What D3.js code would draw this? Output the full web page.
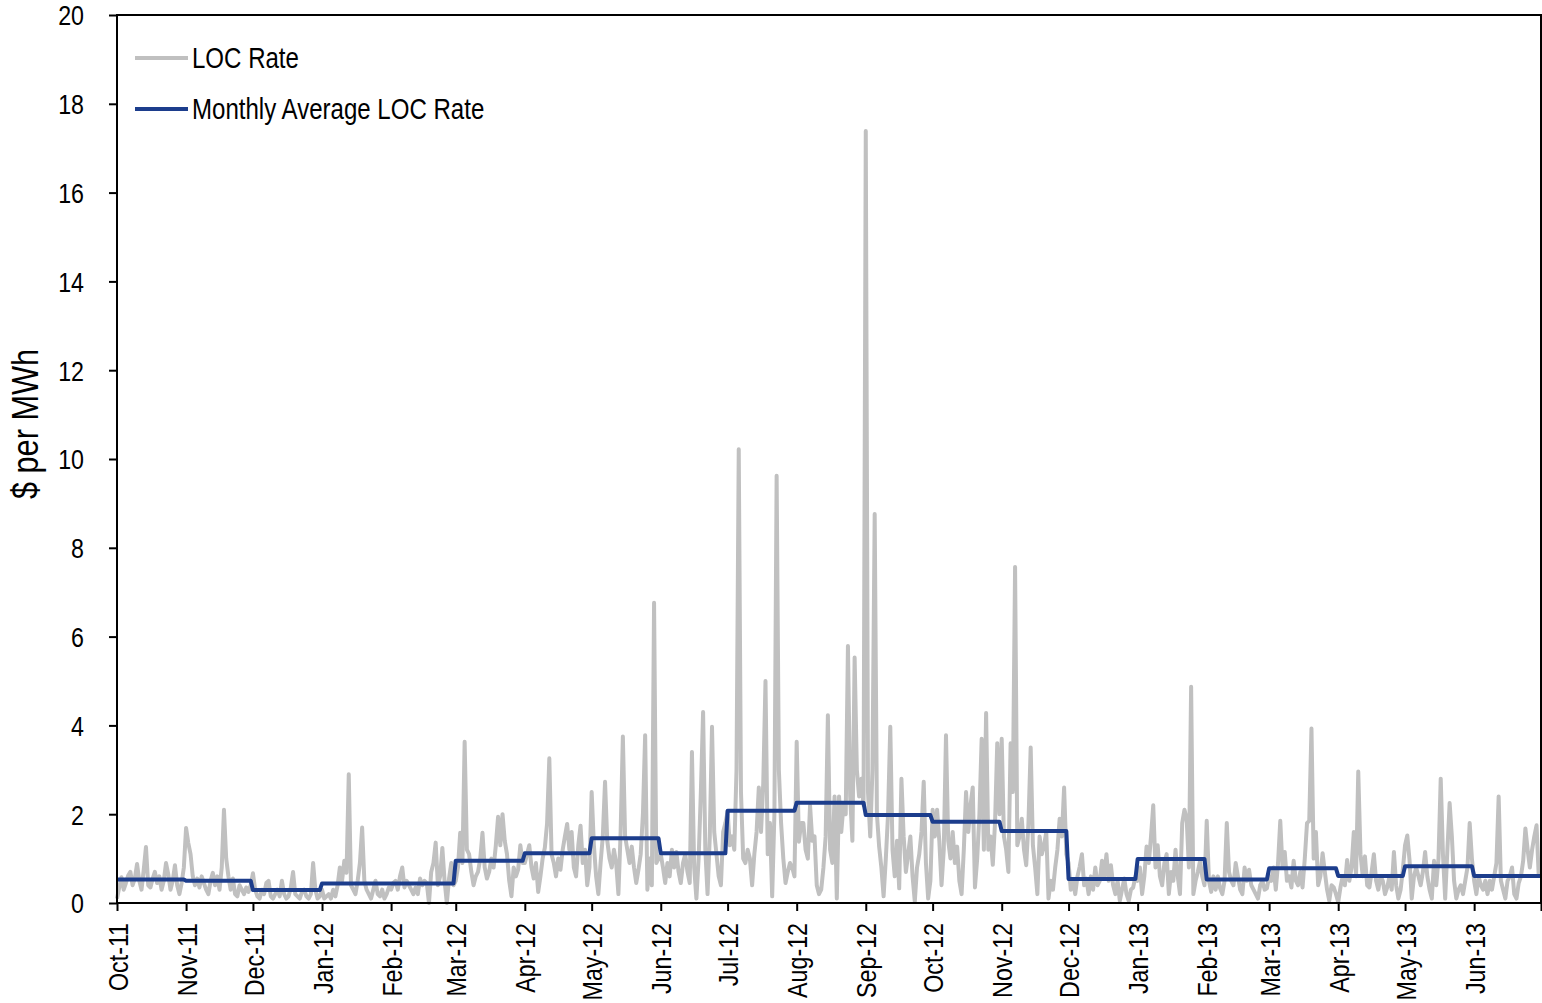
<!DOCTYPE html>
<html><head><meta charset="utf-8">
<script src="https://cdn.jsdelivr.net/npm/d3@7"></script>
<style>
html,body{margin:0;padding:0;background:#fff;}
svg{display:block;}
text{font-family:"Liberation Sans",Arial,sans-serif;fill:#000;}
</style></head><body>
<svg id="chart" width="1542" height="1003"></svg>
<script>
// ---- Data ----
const monthLabels = ["Oct-11","Nov-11","Dec-11","Jan-12","Feb-12","Mar-12","Apr-12","May-12","Jun-12","Jul-12","Aug-12","Sep-12","Oct-12","Nov-12","Dec-12","Jan-13","Feb-13","Mar-13","Apr-13","May-13","Jun-13"];
const monthlyAverage = [0.53,0.50,0.29,0.44,0.44,0.95,1.12,1.46,1.12,2.08,2.26,1.98,1.83,1.62,0.54,0.99,0.53,0.78,0.61,0.83,0.61];
const yTicks = [0,2,4,6,8,10,12,14,16,18,20];
const seriesNames = ["LOC Rate","Monthly Average LOC Rate"];
const yTitle = "$ per MWh";

// daily LOC rate, one array per month
const rateOct11 = [0.1,0.35,0.58,0.3,0.45,0.62,0.7,0.4,0.55,0.88,0.5,0.3,0.75,1.26,0.4,0.35,0.55,0.7,0.45,0.6,0.3,0.5,0.9,0.65,0.3,0.5,0.85,0.4,0.2,0.45,0.8];
const rateNov11 = [1.69,1.35,1.1,0.6,0.4,0.55,0.35,0.6,0.45,0.3,0.2,0.5,0.68,0.4,0.6,0.3,0.8,2.1,1.0,0.6,0.3,0.55,0.2,0.15,0.4,0.3,0.2,0.35,0.25,0.4];
const rateDec11 = [0.67,0.3,0.15,0.1,0.3,0.2,0.45,0.5,0.15,0.1,0.2,0.3,0.15,0.5,0.2,0.1,0.15,0.35,0.7,0.2,0.15,0.1,0.25,0.3,0.15,0.1,0.2,0.9,0.3,0.1,0.15];
const rateJan12 = [0.3,0.1,0.15,0.2,0.1,0.3,0.15,0.4,0.8,0.5,0.95,0.68,2.9,0.4,0.3,0.2,0.5,0.9,1.7,0.5,0.3,0.2,0.1,0.3,0.5,0.2,0.15,0.3,0.1,0.2,0.35];
const rateFeb12 = [0.3,0.45,0.5,0.3,0.6,0.8,0.35,0.5,0.4,0.3,0.2,0.35,0.2,0.55,0.4,0.5,0.45,0.0,0.7,0.9,1.36,0.4,0.6,1.24,0.5,0.0,0.55,0.9,0.4];
const rateMar12 = [0.5,0.8,1.58,0.9,3.63,1.2,1.1,0.7,0.4,0.6,0.7,1.0,1.58,0.8,0.55,0.7,1.0,0.8,1.3,1.94,1.3,2.0,1.4,1.1,0.5,0.15,0.8,0.6,0.75,1.3,0.9];
const rateApr12 = [0.9,1.1,1.3,0.8,0.55,0.9,0.25,0.6,1.0,1.25,1.8,3.26,1.1,0.9,0.6,1.0,0.75,1.2,1.5,1.78,1.2,1.6,0.8,0.6,1.3,1.74,0.9,1.2,0.4,0.8];
const rateMay12 = [2.5,1.3,0.6,0.2,0.9,1.5,2.73,1.4,1.0,0.8,1.2,0.9,0.2,1.6,3.75,1.5,1.2,0.9,1.27,0.8,0.45,0.75,1.1,2.0,3.78,0.3,1.0,0.4,6.76,0.9,1.0];
const rateJun12 = [1.1,0.8,0.45,0.9,0.6,1.2,0.8,1.15,0.7,0.45,0.9,1.1,0.7,0.45,3.4,0.8,0.1,1.0,2.5,4.3,1.2,0.2,1.5,3.97,1.6,1.1,0.6,0.4,1.6,1.8];
const rateJul12 = [2.05,1.3,1.5,1.2,3.0,10.22,2.5,1.0,0.9,1.2,1.0,0.4,1.1,1.6,2.6,1.6,2.7,5.0,1.1,1.8,0.15,2.0,9.62,3.0,1.8,1.0,0.45,0.7,0.9,0.8,0.6];
const rateAug12 = [3.63,1.38,1.8,1.8,1.2,1.0,2.2,1.4,1.5,0.4,0.2,0.3,0.8,1.5,4.23,1.2,0.9,2.4,0.1,2.4,1.6,2.2,2.0,5.79,2.4,1.4,5.53,3.0,2.4,2.8,2.2];
const rateSep12 = [17.39,2.5,1.5,3.0,8.76,2.0,1.27,0.8,0.15,1.0,2.0,3.97,1.2,0.6,1.4,0.33,2.8,1.5,0.7,1.1,1.5,0.6,0.03,0.8,1.1,1.6,2.73,0.9,0.1,0.5];
const rateOct12 = [2.1,1.5,2.1,1.4,0.4,1.2,3.78,1.4,1.0,1.6,0.9,1.27,0.5,0.2,1.2,2.5,1.6,2.2,2.6,0.35,1.0,2.0,3.7,1.2,4.28,1.2,1.5,0.86,1.8,3.6,2.0];
const rateNov12 = [3.7,1.5,1.2,0.7,3.6,2.5,7.57,1.3,1.5,1.9,1.2,0.85,1.8,3.5,1.3,0.8,0.2,1.5,1.1,1.3,1.6,0.1,0.5,0.3,0.8,1.2,1.9,1.5,2.6,1.1];
const rateDec12 = [0.9,0.3,0.5,0.2,0.6,0.82,1.1,0.4,0.55,0.2,0.6,0.3,0.8,0.4,0.5,0.95,0.6,1.1,0.5,0.85,0.4,0.2,0.5,0.05,0.3,0.55,0.2,0.05,0.3,0.35,0.6];
const rateJan13 = [0.5,0.8,0.2,0.6,1.27,0.9,1.5,2.2,0.8,1.3,0.6,0.4,0.9,1.1,0.2,0.7,0.5,1.2,0.6,0.2,1.8,2.1,1.9,0.8,4.87,0.2,0.5,0.7,0.95,0.6,0.4];
const rateFeb13 = [1.85,0.5,0.25,0.6,0.3,0.6,0.33,0.2,0.5,1.8,0.7,0.5,0.4,0.9,0.6,0.3,0.2,0.8,0.5,0.75,0.4,0.3,0.2,0.1,0.4,0.5,0.3,0.33];
const rateMar13 = [0.6,0.5,0.8,0.3,0.9,1.85,0.8,1.15,0.5,0.6,0.35,0.95,0.5,0.4,0.7,0.35,1.0,1.8,1.85,3.93,1.0,1.6,0.4,0.6,1.12,0.7,0.3,0.05,0.4,0.35,0.2];
const rateApr13 = [0.02,0.35,0.6,0.4,0.97,0.5,0.8,1.6,0.6,2.96,1.1,0.6,1.05,0.4,0.35,0.7,1.1,0.5,0.3,0.6,0.5,0.2,0.35,0.6,0.3,1.15,0.4,0.1,0.3,0.75];
const rateMay13 = [1.3,1.52,0.97,0.1,0.6,0.8,0.6,0.4,0.7,1.15,0.6,0.3,0.1,0.95,0.4,1.0,2.8,1.1,0.1,1.2,2.25,1.5,0.5,0.1,0.3,0.4,0.2,0.5,0.8,1.8,1.0];
const rateJun13 = [0.5,0.2,0.6,0.4,0.3,0.5,0.2,0.5,0.3,0.6,0.9,2.4,0.5,0.3,0.1,0.5,0.6,0.8,0.2,0.1,0.45,0.6,0.95,1.68,1.2,0.8,1.2,1.5,1.75,0.6];

const dailyByMonth = [rateOct11,rateNov11,rateDec11,rateJan12,rateFeb12,rateMar12,rateApr12,rateMay12,rateJun12,rateJul12,rateAug12,rateSep12,rateOct12,rateNov12,rateDec12,rateJan13,rateFeb13,rateMar13,rateApr13,rateMay13,rateJun13];

// ---- Build ----
const startDate = new Date(Date.UTC(2011, 9, 1));
const monthStarts = monthLabels.map((_, i) => d3.utcMonth.offset(startDate, i));
const endDate = d3.utcMonth.offset(startDate, monthLabels.length);

const daily = [];
const avgLine = [];
dailyByMonth.forEach((arr, i) => {
  arr.forEach((v, j) => {
    const dt = d3.utcDay.offset(monthStarts[i], j);
    daily.push({date: dt, value: v});
    avgLine.push({date: dt, value: monthlyAverage[i]});
  });
});
avgLine.push({date: endDate, value: monthlyAverage[monthlyAverage.length - 1]});

const NARROW = 0.83; // emulate a narrow sans face
const plot = {left: 117, top: 15, right: 1541, bottom: 903};
const svg = d3.select("#chart");

const x = d3.scaleUtc().domain([startDate, endDate]).range([plot.left, plot.right]);
const y = d3.scaleLinear().domain([0, 20]).range([plot.bottom, plot.top]);

// data lines
const line = d3.line().x(d => x(d.date)).y(d => y(d.value));
svg.append("path").datum(daily)
  .attr("d", line).attr("fill", "none")
  .attr("stroke", "#c0c0c0").attr("stroke-width", 4)
  .attr("stroke-linejoin", "round");
svg.append("path").datum(avgLine)
  .attr("d", line).attr("fill", "none")
  .attr("stroke", "#1c3d8c").attr("stroke-width", 4)
  .attr("stroke-linejoin", "round");

// frame
svg.append("rect")
  .attr("x", plot.left).attr("y", plot.top)
  .attr("width", plot.right - plot.left).attr("height", plot.bottom - plot.top)
  .attr("fill", "none").attr("stroke", "#000").attr("stroke-width", 2);

// y axis
const yAxis = svg.append("g").attr("transform", `translate(${plot.left},0)`)
  .call(d3.axisLeft(y).tickValues(yTicks).tickSize(8).tickFormat(d3.format("d")));
yAxis.select(".domain").remove();
yAxis.attr("font-family", null).attr("font-size", null);
yAxis.selectAll(".tick line").attr("stroke", "#000").attr("stroke-width", 2);
yAxis.selectAll(".tick text")
  .attr("font-size", 28).attr("fill", "#000")
  .attr("text-anchor", "end")
  .attr("x", 0).attr("dy", "0.35em")
  .attr("transform", `translate(-33,0) scale(${NARROW},1)`);

// x axis
const xTickValues = monthStarts.concat([endDate]);
const xAxis = svg.append("g").attr("transform", `translate(0,${plot.bottom})`)
  .call(d3.axisBottom(x).tickValues(xTickValues).tickSize(8)
    .tickFormat((d, i) => i < monthLabels.length ? monthLabels[i] : ""));
xAxis.select(".domain").remove();
xAxis.attr("font-family", null).attr("font-size", null);
xAxis.selectAll(".tick line").attr("stroke", "#000").attr("stroke-width", 2);
xAxis.selectAll(".tick text")
  .attr("font-size", 28).attr("fill", "#000")
  .attr("text-anchor", "end")
  .attr("x", 0).attr("y", 0).attr("dy", "0.36em")
  .attr("transform", `rotate(-90) translate(-20,0) scale(${NARROW},1)`);

// y title
svg.append("text")
  .attr("transform", `translate(38,424) rotate(-90) scale(${NARROW},1)`)
  .attr("text-anchor", "middle")
  .attr("font-size", 37)
  .text(yTitle);

// legend
const legendColors = ["#c0c0c0", "#1c3d8c"];
const legendWidths = [4, 4];
seriesNames.forEach((name, i) => {
  const ly = 58 + i * 51;
  svg.append("line").attr("x1", 135).attr("x2", 188).attr("y1", ly).attr("y2", ly)
    .attr("stroke", legendColors[i]).attr("stroke-width", legendWidths[i]);
  svg.append("text")
    .attr("transform", `translate(192,${ly}) scale(${NARROW},1)`)
    .attr("dy", "0.36em")
    .attr("font-size", 29).text(name);
});
</script>
</body></html>
